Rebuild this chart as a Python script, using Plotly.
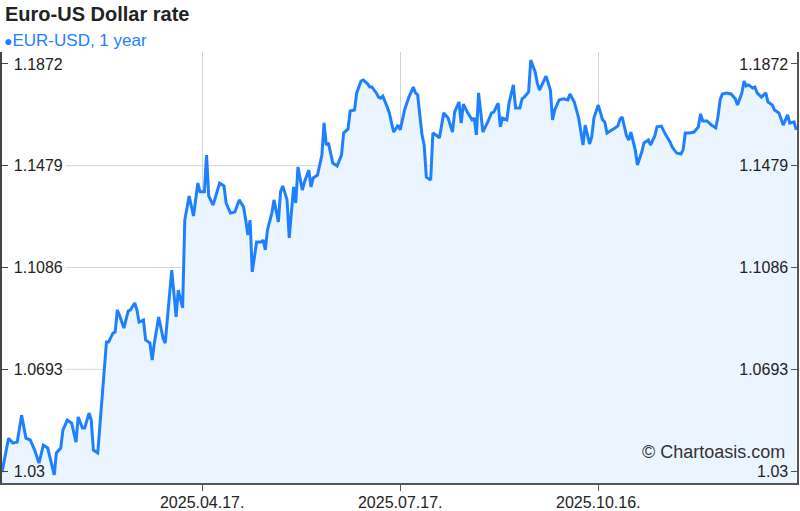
import plotly.graph_objects as go

# EUR-USD daily rate
dates = [
    "2025-01-15", "2025-01-18", "2025-01-20", "2025-01-22", "2025-01-24", "2025-01-26", "2025-01-28", "2025-01-30",
    "2025-02-01", "2025-02-03", "2025-02-05", "2025-02-08", "2025-02-09", "2025-02-11", "2025-02-12", "2025-02-14",
    "2025-02-16", "2025-02-18", "2025-02-19", "2025-02-21", "2025-02-22", "2025-02-24", "2025-02-25", "2025-02-26",
    "2025-02-28", "2025-03-02", "2025-03-04", "2025-03-05", "2025-03-07", "2025-03-08", "2025-03-09", "2025-03-10",
    "2025-03-12", "2025-03-14", "2025-03-15", "2025-03-17", "2025-03-18", "2025-03-19", "2025-03-21", "2025-03-22",
    "2025-03-24", "2025-03-25", "2025-03-26", "2025-03-28", "2025-03-30", "2025-03-31", "2025-04-01", "2025-04-03",
    "2025-04-04", "2025-04-05", "2025-04-06", "2025-04-08", "2025-04-09", "2025-04-11", "2025-04-13", "2025-04-15",
    "2025-04-16", "2025-04-18", "2025-04-19", "2025-04-20", "2025-04-22", "2025-04-24", "2025-04-25", "2025-04-27",
    "2025-04-28", "2025-04-30", "2025-05-02", "2025-05-04", "2025-05-06", "2025-05-07", "2025-05-08", "2025-05-09",
    "2025-05-10", "2025-05-12", "2025-05-14", "2025-05-15", "2025-05-16", "2025-05-17", "2025-05-19", "2025-05-20",
    "2025-05-22", "2025-05-23", "2025-05-24", "2025-05-26", "2025-05-27", "2025-05-29", "2025-05-30", "2025-05-31",
    "2025-06-02", "2025-06-03", "2025-06-05", "2025-06-06", "2025-06-07", "2025-06-09", "2025-06-11", "2025-06-12",
    "2025-06-13", "2025-06-14", "2025-06-16", "2025-06-18", "2025-06-20", "2025-06-21", "2025-06-23", "2025-06-24",
    "2025-06-26", "2025-06-27", "2025-06-29", "2025-06-30", "2025-07-02", "2025-07-03", "2025-07-04", "2025-07-06",
    "2025-07-07", "2025-07-08", "2025-07-09", "2025-07-11", "2025-07-12", "2025-07-13", "2025-07-14", "2025-07-16",
    "2025-07-17", "2025-07-19", "2025-07-21", "2025-07-23", "2025-07-24", "2025-07-25", "2025-07-27", "2025-07-28",
    "2025-07-29", "2025-07-31", "2025-08-01", "2025-08-03", "2025-08-04", "2025-08-06", "2025-08-08", "2025-08-10",
    "2025-08-11", "2025-08-13", "2025-08-14", "2025-08-15", "2025-08-17", "2025-08-19", "2025-08-20", "2025-08-21",
    "2025-08-22", "2025-08-24", "2025-08-25", "2025-08-26", "2025-08-28", "2025-08-29", "2025-08-31", "2025-09-01",
    "2025-09-02", "2025-09-04", "2025-09-05", "2025-09-07", "2025-09-08", "2025-09-10", "2025-09-11", "2025-09-12",
    "2025-09-14", "2025-09-15", "2025-09-17", "2025-09-18", "2025-09-19", "2025-09-21", "2025-09-22", "2025-09-24",
    "2025-09-25", "2025-09-26", "2025-09-28", "2025-09-30", "2025-10-02", "2025-10-03", "2025-10-05", "2025-10-07",
    "2025-10-09", "2025-10-10", "2025-10-12", "2025-10-13", "2025-10-14", "2025-10-16", "2025-10-18", "2025-10-19",
    "2025-10-20", "2025-10-23", "2025-10-25", "2025-10-26", "2025-10-27", "2025-10-29", "2025-10-30", "2025-10-31",
    "2025-11-02", "2025-11-03", "2025-11-05", "2025-11-06", "2025-11-08", "2025-11-09", "2025-11-11", "2025-11-12",
    "2025-11-14", "2025-11-16", "2025-11-18", "2025-11-19", "2025-11-21", "2025-11-23", "2025-11-24", "2025-11-25",
    "2025-11-27", "2025-11-29", "2025-12-01", "2025-12-02", "2025-12-03", "2025-12-05", "2025-12-07", "2025-12-09",
    "2025-12-10", "2025-12-11", "2025-12-12", "2025-12-14", "2025-12-16", "2025-12-18", "2025-12-19", "2025-12-21",
    "2025-12-22", "2025-12-23", "2025-12-24", "2025-12-26", "2025-12-27", "2025-12-28", "2025-12-30", "2026-01-01",
    "2026-01-02", "2026-01-04", "2026-01-05", "2026-01-07", "2026-01-08", "2026-01-09", "2026-01-11", "2026-01-12",
    "2026-01-14", "2026-01-15",
]

rate = [
    1.0296, 1.0427, 1.0408, 1.0412, 1.0516, 1.0427, 1.0420, 1.0381,
    1.0331, 1.0400, 1.0389, 1.0285, 1.0370, 1.0389, 1.0458, 1.0497,
    1.0485, 1.0412, 1.0509, 1.0466, 1.0466, 1.0524, 1.0497, 1.0381,
    1.0370, 1.0586, 1.0798, 1.0798, 1.0833, 1.0837, 1.0922, 1.0902,
    1.0852, 1.0918, 1.0922, 1.0949, 1.0922, 1.0875, 1.0883, 1.0806,
    1.0794, 1.0729, 1.0794, 1.0895, 1.0814, 1.0794, 1.0883, 1.1076,
    1.0987, 1.0895, 1.0999, 1.0930, 1.1269, 1.1362, 1.1285, 1.1412,
    1.1378, 1.1378, 1.1520, 1.1362, 1.1327, 1.1378, 1.1412, 1.1401,
    1.1335, 1.1296, 1.1300, 1.1347, 1.1320, 1.1269, 1.1211, 1.1269,
    1.1069, 1.1184, 1.1184, 1.1192, 1.1154, 1.1231, 1.1296, 1.1347,
    1.1262, 1.1378, 1.1401, 1.1347, 1.1200, 1.1397, 1.1335, 1.1474,
    1.1385, 1.1416, 1.1462, 1.1397, 1.1432, 1.1443, 1.1520, 1.1644,
    1.1559, 1.1567, 1.1489, 1.1478, 1.1520, 1.1605, 1.1621, 1.1690,
    1.1694, 1.1760, 1.1806, 1.1810, 1.1795, 1.1783, 1.1783, 1.1760,
    1.1744, 1.1740, 1.1748, 1.1706, 1.1683, 1.1644, 1.1609, 1.1636,
    1.1617, 1.1694, 1.1744, 1.1783, 1.1760, 1.1752, 1.1598, 1.1559,
    1.1435, 1.1424, 1.1605, 1.1594, 1.1586, 1.1683, 1.1663, 1.1609,
    1.1686, 1.1725, 1.1644, 1.1717, 1.1683, 1.1656, 1.1663, 1.1598,
    1.1760, 1.1609, 1.1625, 1.1644, 1.1683, 1.1686, 1.1721, 1.1629,
    1.1663, 1.1656, 1.1721, 1.1791, 1.1702, 1.1702, 1.1737, 1.1744,
    1.1764, 1.1887, 1.1841, 1.1798, 1.1771, 1.1806, 1.1825, 1.1771,
    1.1656, 1.1694, 1.1733, 1.1737, 1.1733, 1.1756, 1.1725, 1.1663,
    1.1559, 1.1636, 1.1563, 1.1590, 1.1663, 1.1713, 1.1656, 1.1648,
    1.1605, 1.1621, 1.1632, 1.1659, 1.1667, 1.1594, 1.1578, 1.1609,
    1.1540, 1.1482, 1.1532, 1.1567, 1.1578, 1.1559, 1.1594, 1.1629,
    1.1632, 1.1598, 1.1571, 1.1551, 1.1528, 1.1524, 1.1540, 1.1605,
    1.1605, 1.1609, 1.1629, 1.1679, 1.1652, 1.1652, 1.1636, 1.1625,
    1.1667, 1.1733, 1.1756, 1.1760, 1.1756, 1.1737, 1.1713, 1.1760,
    1.1806, 1.1787, 1.1791, 1.1779, 1.1783, 1.1760, 1.1744, 1.1760,
    1.1725, 1.1713, 1.1694, 1.1683, 1.1663, 1.1636, 1.1675, 1.1644,
    1.1648, 1.1617,
]

y_ticks = [1.03, 1.0693, 1.1086, 1.1479, 1.1872]
grid_levels = [1.0693, 1.1086, 1.1479]
x_ticks = ["2025-04-17", "2025-07-17", "2025-10-16"]
x_tick_text = ["2025.04.17.", "2025.07.17.", "2025.10.16."]

FONT = "Liberation Sans, Arial, sans-serif"
LINE_BLUE = "#1f80ff"
FILL_BLUE = "#ebf5ff"
y_range = [1.0254, 1.1918]

fig = go.Figure()

fig.add_trace(
    go.Scatter(
        x=dates,
        y=rate,
        mode="lines",
        line=dict(color=LINE_BLUE, width=3),
        fill="tozeroy",
        fillcolor=FILL_BLUE,
        name="EUR-USD, 1 year",
        showlegend=False,
    )
)

# invisible copy so the right-hand axis gets drawn
fig.add_trace(
    go.Scatter(
        x=dates,
        y=rate,
        mode="lines",
        line=dict(color="rgba(0,0,0,0)", width=0),
        yaxis="y2",
        showlegend=False,
        hoverinfo="skip",
    )
)

# horizontal grid lines only at the inner levels (hidden by the fill)
for lvl in grid_levels:
    fig.add_shape(
        type="line", xref="paper", yref="y",
        x0=0.08, x1=0.92, y0=lvl, y1=lvl,
        line=dict(color="#d4d4d4", width=1),
        layer="below",
    )

axis_font = dict(family=FONT, size=16, color="#222222")

fig.update_layout(
    width=800,
    height=511,
    margin=dict(l=2, r=3, t=52, b=28),
    paper_bgcolor="white",
    plot_bgcolor="white",
    font=dict(family=FONT),
    xaxis=dict(
        range=["2025-01-15", "2026-01-15 08:00"],
        tickvals=x_ticks,
        ticktext=x_tick_text,
        tickfont=axis_font,
        ticks="outside",
        ticklen=6,
        tickcolor="#555555",
        ticklabelstandoff=-2,
        showgrid=True,
        gridcolor="#d4d4d4",
        gridwidth=1,
        showline=True,
        linecolor="#555555",
        linewidth=2,
        zeroline=False,
        automargin=False,
    ),
    yaxis=dict(
        range=y_range,
        tickvals=y_ticks,
        ticktext=[f"{v:g}" for v in y_ticks],
        tickfont=axis_font,
        ticks="inside",
        ticklen=6,
        tickcolor="#444444",
        ticklabelposition="inside",
        ticklabelstandoff=6,
        showgrid=False,
        showline=True,
        linecolor="#444444",
        linewidth=2,
        zeroline=False,
        automargin=False,
    ),
    yaxis2=dict(
        range=y_range,
        overlaying="y",
        side="right",
        tickvals=y_ticks,
        ticktext=[f"{v:g}" for v in y_ticks],
        tickfont=axis_font,
        ticks="inside",
        ticklen=6,
        tickcolor="#555555",
        ticklabelposition="inside",
        ticklabelstandoff=3,
        showgrid=False,
        showline=True,
        linecolor="#555555",
        linewidth=2,
        zeroline=False,
        automargin=False,
    ),
    annotations=[
        dict(
            text="<b>Euro-US Dollar rate</b>",
            xref="paper", yref="paper", x=0, y=1,
            xanchor="left", yanchor="middle",
            xshift=1, yshift=38,
            showarrow=False,
            font=dict(family=FONT, size=20, color="#222222"),
        ),
        dict(
            text="<span style='font-size:14px'>●</span>EUR-USD, 1 year",
            xref="paper", yref="paper", x=0, y=1,
            xanchor="left", yanchor="middle",
            xshift=0, yshift=12,
            showarrow=False,
            font=dict(family=FONT, size=17, color=LINE_BLUE),
        ),
        dict(
            text="© Chartoasis.com",
            xref="paper", yref="paper", x=1, y=0,
            xanchor="right", yanchor="middle",
            xshift=-10, yshift=31,
            showarrow=False,
            font=dict(family=FONT, size=18, color="#333333"),
        ),
    ],
)

# page body has a default 8px margin; drop it so the chart sits at the origin
fig.write_html(
    "out.html",
    config={"displayModeBar": False},
    post_script="document.body.style.margin='0';",
)
